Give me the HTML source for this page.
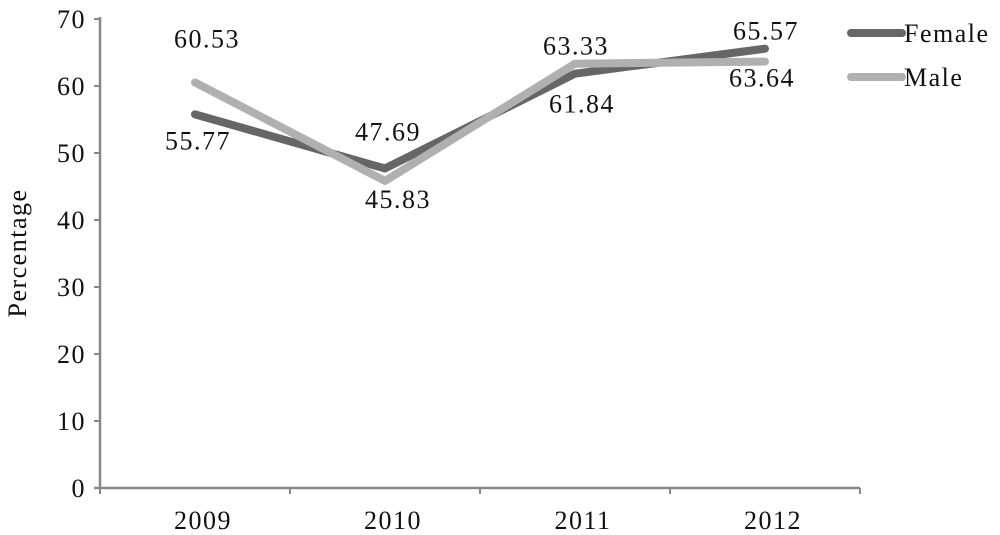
<!DOCTYPE html>
<html><head><meta charset="utf-8"><style>
html,body{margin:0;padding:0;background:#fff;}
svg{display:block;font-family:"Liberation Serif",serif;}
text{letter-spacing:1.5px;}
</style></head><body>
<svg id="chart" width="1000" height="535" viewBox="0 0 1000 535" xmlns="http://www.w3.org/2000/svg">
<g id="axes"></g>
<g id="series"></g>
<g id="labels"></g>
<g id="legend"></g>
</svg>
<script>
const categories = ["2009","2010","2011","2012"];
const femaleValues = [55.77, 47.69, 61.84, 65.57];
const maleValues = [60.53, 45.83, 63.33, 63.64];
const yTicks = [0,10,20,30,40,50,60,70];
const femaleLabelOffsets = [[3,26],[3,-37],[7,30],[1,-18]];
const maleLabelOffsets = [[12,-44],[13,18],[1,-18],[-3,16]];

const NS="http://www.w3.org/2000/svg";
const x0=100,x1=860,y0=488,yTop=19;
const FS=26;
function xPos(i){return x0+(x1-x0)/categories.length*(i+0.5);}
function yPos(v){return y0-(y0-yTop)*v/70;}
function mk(tag,attrs,parent,text){const e=document.createElementNS(NS,tag);for(const k in attrs)e.setAttribute(k,attrs[k]);if(text!==undefined)e.textContent=text;parent.appendChild(e);return e;}

const axes=document.getElementById('axes');
let e=mk('line',{x1:x0,y1:yTop-2,x2:x0,y2:y0,stroke:'#888','stroke-width':2.5},axes);


e=mk('line',{x1:x0-6,y1:y0,x2:x1,y2:y0,stroke:'#888','stroke-width':2.5},axes);


yTicks.forEach(t=>{
  const y=yPos(t);
  let tk=mk('line',{x1:x0-6,y1:y,x2:x0,y2:y,stroke:'#888','stroke-width':2},axes);
  
  
  let tl=mk('text',{x:x0-14,y:y+9,'text-anchor':'end','font-size':FS,fill:'#111'},axes,String(t));
  
  
});
for(let i=0;i<=categories.length;i++){
  const x=x0+(x1-x0)/categories.length*i;
  let tk=mk('line',{x1:x,y1:y0,x2:x,y2:y0+6,stroke:'#888','stroke-width':2},axes);
  
  
}
categories.forEach((c,i)=>{
  let tl=mk('text',{x:xPos(i)+8,y:529,'text-anchor':'middle','font-size':FS,fill:'#111'},axes,c);
  
  
});
let yt=mk('text',{x:0,y:0,'text-anchor':'middle','font-size':FS,fill:'#111',transform:'translate(26,253) rotate(-90)'},axes,'Percentage');



const series=document.getElementById('series');
const labels=document.getElementById('labels');
function drawSeries(vals,color,name,offs){
  const pts=vals.map((v,i)=>xPos(i)+','+yPos(v)).join(' ');
  let pl=mk('polyline',{points:pts,fill:'none',stroke:color,'stroke-width':8,'stroke-linejoin':'round','stroke-linecap':'round'},series);
  
  
  vals.forEach((v,i)=>{
    let t=mk('text',{x:xPos(i)+offs[i][0],y:yPos(v)+offs[i][1]+9,'text-anchor':'middle','font-size':FS,fill:'#111'},labels,v.toFixed(2));
    
    
  });
}
drawSeries(femaleValues,'#666666','female',femaleLabelOffsets);
drawSeries(maleValues,'#b0b0b0','male',maleLabelOffsets);

const legend=document.getElementById('legend');
[['Female','#666666',33],['Male','#b0b0b0',77]].forEach(([n,c,y])=>{
  let g=mk('g',{},legend);
  
  
  mk('line',{x1:851,y1:y,x2:902,y2:y,stroke:c,'stroke-width':8,'stroke-linecap':'round'},g);
  mk('text',{x:904,y:y+9,'font-size':FS,fill:'#111'},g,n);
});
</script>
</body></html>
